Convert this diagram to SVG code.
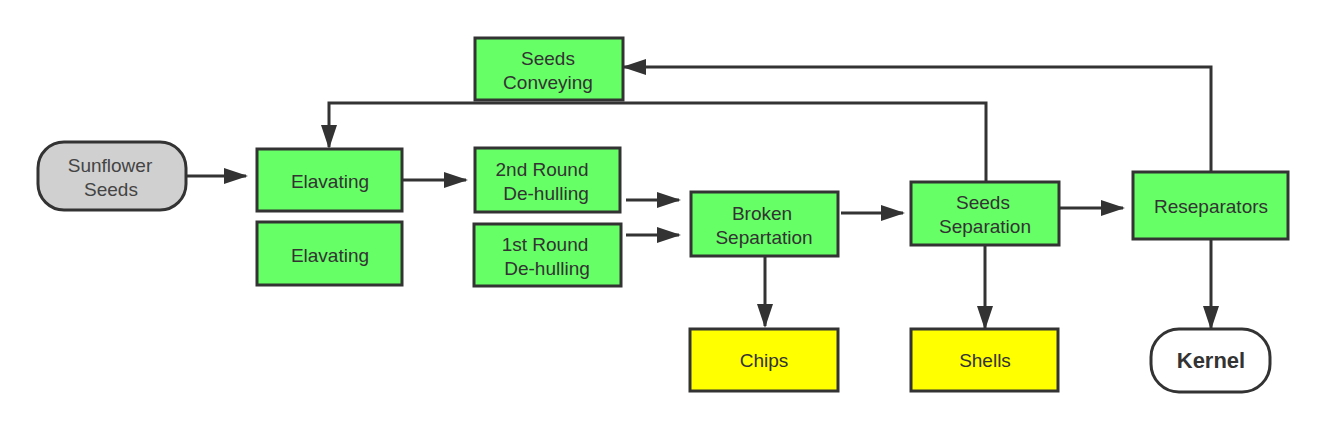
<svg xmlns="http://www.w3.org/2000/svg" width="1324" height="429" viewBox="0 0 1324 429">
<style>
.g{fill:#66ff66;stroke:#333;stroke-width:3}
.y{fill:#ffff00;stroke:#333;stroke-width:3}
.t{font-family:"Liberation Sans",Arial,sans-serif;font-size:19px;fill:#333;text-anchor:middle}
.c{fill:none;stroke:#333;stroke-width:3}
</style>
<defs>
<marker id="a" markerUnits="userSpaceOnUse" markerWidth="24" markerHeight="16" refX="22" refY="8" orient="auto">
<path d="M0,0 L24,8 L0,16 Z" fill="#333"/>
</marker>
</defs>
<rect width="1324" height="429" fill="#fff"/>
<g id="connectors">
<path class="c" d="M187,176 H246" marker-end="url(#a)"/>
<path class="c" d="M403,180 H466" marker-end="url(#a)"/>
<path class="c" d="M626,200 H679" marker-end="url(#a)"/>
<path class="c" d="M626,235 H679" marker-end="url(#a)"/>
<path class="c" d="M841,213 H903" marker-end="url(#a)"/>
<path class="c" d="M1060,208 H1123" marker-end="url(#a)"/>
<path class="c" d="M765,257 V326" marker-end="url(#a)"/>
<path class="c" d="M985,246 V328" marker-end="url(#a)"/>
<path class="c" d="M1211,240 V328" marker-end="url(#a)"/>
<path class="c" d="M986,181 V103 H329 V147" marker-end="url(#a)"/>
<path class="c" d="M1211,171 V67 H624" marker-end="url(#a)"/>
</g>
<g id="sunflower"><rect x="38" y="142" width="148" height="68" rx="26" fill="#d0d0d0" stroke="#333" stroke-width="3"/><text class="t" x="110" y="172" style="fill:#444">Sunflower</text><text class="t" x="111" y="196" style="fill:#444">Seeds</text></g>
<g id="elav1"><rect class="g" x="257" y="149" width="145" height="62"/><text class="t" x="330" y="188">Elavating</text></g>
<g id="elav2"><rect class="g" x="257" y="222" width="145" height="63"/><text class="t" x="330" y="262">Elavating</text></g>
<g id="conveying"><rect class="g" x="475" y="38" width="148" height="62"/><text class="t" x="548" y="65">Seeds</text><text class="t" x="548" y="89">Conveying</text></g>
<g id="round2"><rect class="g" x="475" y="148" width="145" height="64"/><text class="t" x="542" y="176">2nd Round</text><text class="t" x="546" y="200">De-hulling</text></g>
<g id="round1"><rect class="g" x="474" y="224" width="147" height="62"/><text class="t" x="545" y="251">1st Round</text><text class="t" x="547" y="275">De-hulling</text></g>
<g id="broken"><rect class="g" x="691" y="192" width="147" height="64"/><text class="t" x="762" y="220">Broken</text><text class="t" x="764" y="244">Separtation</text></g>
<g id="seedsep"><rect class="g" x="911" y="182" width="148" height="63"/><text class="t" x="983" y="209">Seeds</text><text class="t" x="985" y="233">Separation</text></g>
<g id="resep"><rect class="g" x="1133" y="172" width="155" height="67"/><text class="t" x="1211" y="213">Reseparators</text></g>
<g id="chips"><rect class="y" x="690" y="329" width="148" height="62"/><text class="t" x="764" y="367">Chips</text></g>
<g id="shells"><rect class="y" x="911" y="329" width="147" height="62"/><text class="t" x="985" y="367">Shells</text></g>
<g id="kernel"><rect x="1151" y="329" width="119" height="63" rx="28" fill="#fff" stroke="#333" stroke-width="3"/><text class="t" x="1211" y="368" style="font-weight:bold;font-size:22px">Kernel</text></g>
</svg>
